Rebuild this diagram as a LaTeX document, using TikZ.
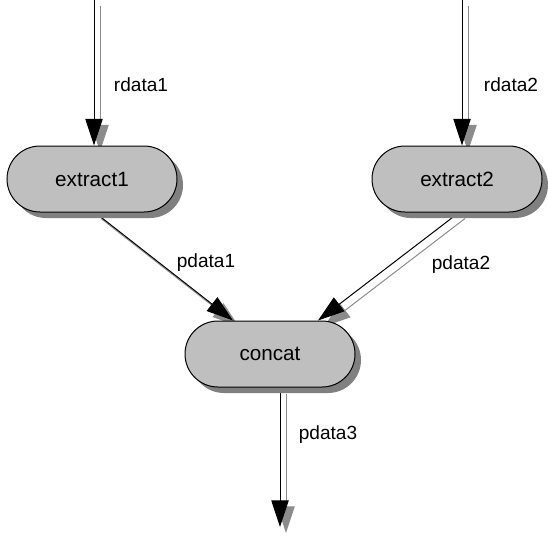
\documentclass[tikz,border=0pt]{standalone}
\usepackage{fontspec}
\setmainfont{Liberation Sans}
\usetikzlibrary{shapes.misc,shadows,arrows.meta,backgrounds,calc}

\begin{document}
\begin{tikzpicture}[x=0.75pt,y=-0.75pt,
    task/.style={rounded rectangle,draw,line width=0.75pt,fill=black!25,
        minimum width=127.5pt,minimum height=49.5pt,inner sep=0pt,
        font=\fontsize{15.5}{18}\selectfont,
        drop shadow={shadow xshift=4.5pt,shadow yshift=-4.5pt,fill=black!50,opacity=1}},
    flow/.style={line width=0.75pt,-{Triangle[length=20pt,width=13pt]}},
    flowshadow/.style={flow,black!45,transform canvas={shift={(4.5pt,-4.5pt)}}},
    lbl/.style={font=\fontsize{14.3}{17}\selectfont}]
    \providecommand{\flow}[2]{\draw[flowshadow] #1 -- #2; \draw[flow] #1 -- #2;}
    \useasboundingbox (0,0) rectangle (548,535);
    % tasks
    \node[task] (extract1) at (92,179) {extract1};
    \node[task] (extract2) at (457,179) {extract2};
    \node[task] (concat) at (270,354) {concat};
    % loose ends
    \coordinate (in1) at (94,0);
    \coordinate (in2) at (462,0);
    \coordinate (out) at (280,527);
    % data
    \begin{scope}[on background layer]
    \flow{(in1)}{(in1 |- extract1.north)}
    \flow{(in2)}{(in2 |- extract2.north)}
    \flow{($(extract1.south)+(3,0)$)}{($(concat.north)+(-37,0)$)}
    \flow{($(extract2.south)+(2,0)$)}{($(concat.north)+(48,0)$)}
    \flow{(out |- concat.south)}{(out)}
    \end{scope}
    \node[lbl] (rdata1) at (141,85) {rdata1};
    \node[lbl] (rdata2) at (511,85) {rdata2};
    \node[lbl] (pdata1) at (206,263) {pdata1};
    \node[lbl] (pdata2) at (461,265) {pdata2};
    \node[lbl] (pdata3) at (328,435) {pdata3};
\end{tikzpicture}
\end{document}
